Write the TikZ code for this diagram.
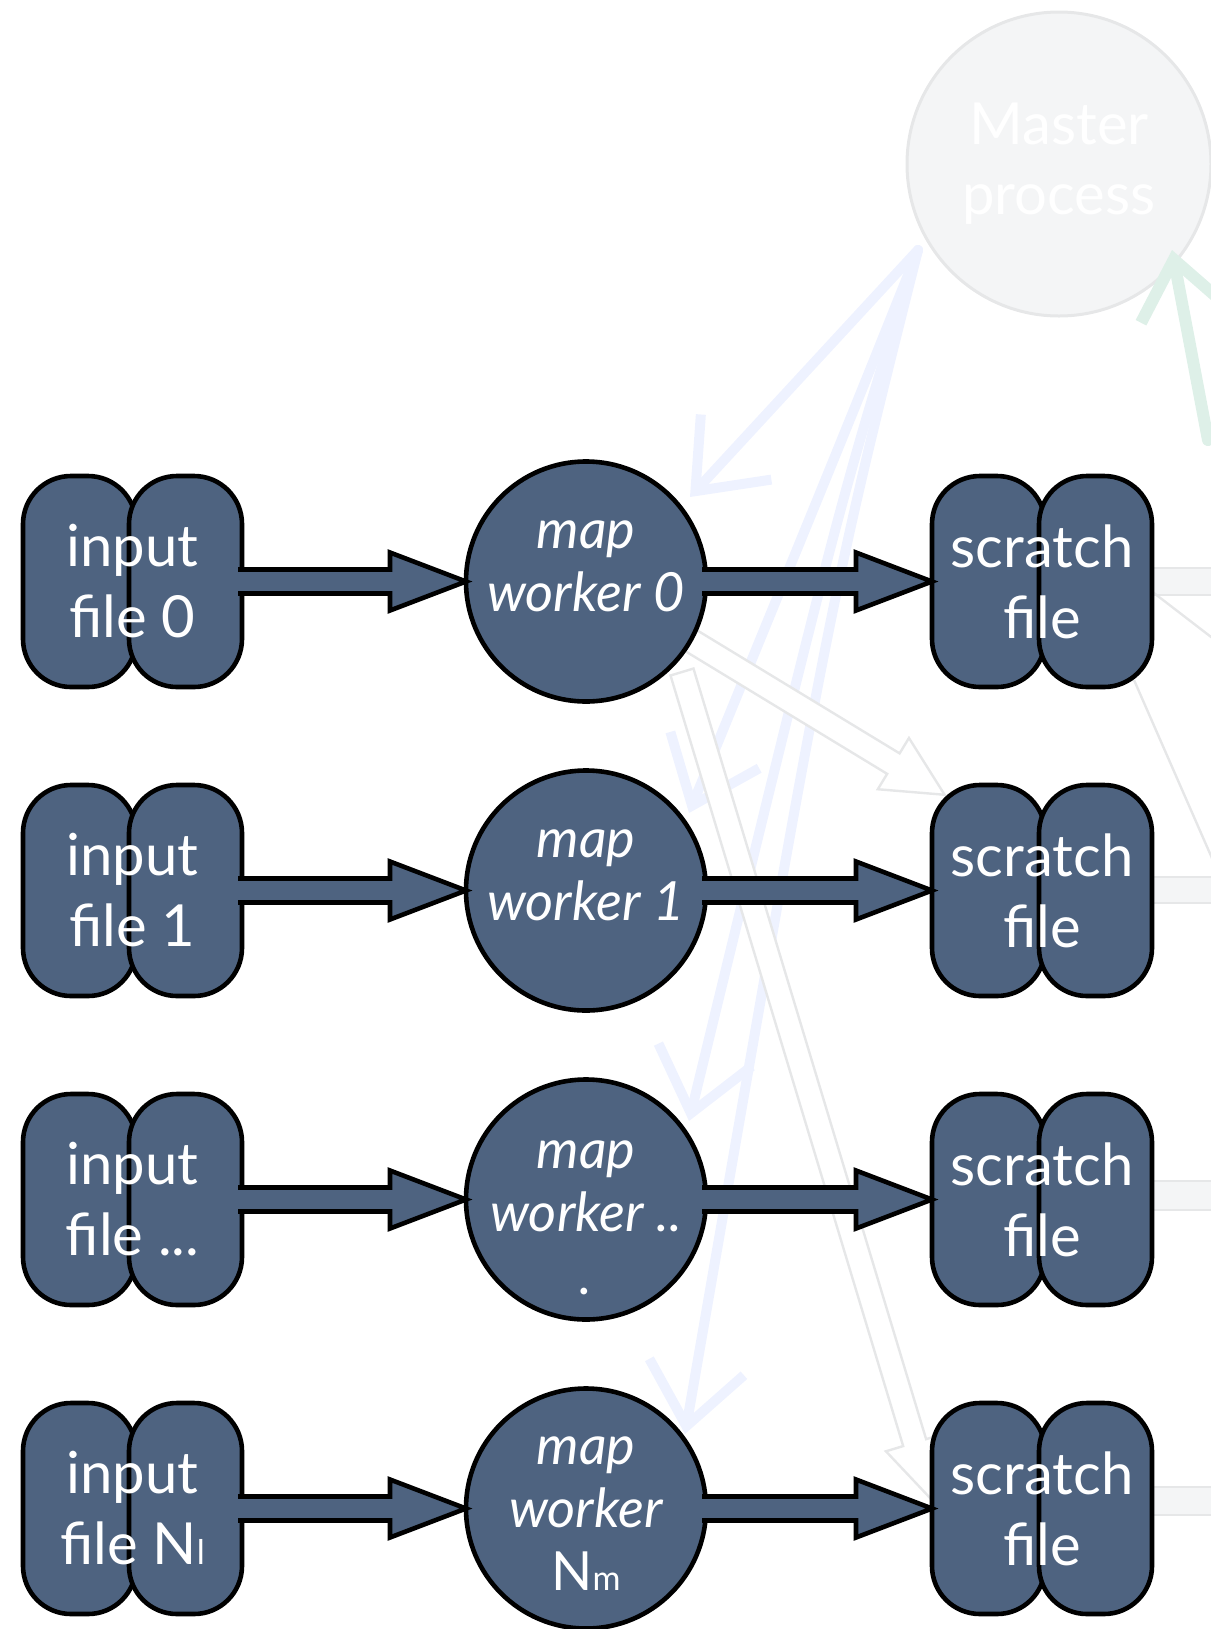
\documentclass[tikz,border=0pt]{standalone}
\usepackage{fontspec}
\setmainfont{Lato}
\usetikzlibrary{calc,arrows.meta}
\definecolor{slate}{HTML}{4E6380}
\definecolor{ghostblue}{RGB}{238,242,255}
\definecolor{ghostgreen}{RGB}{222,240,232}
\definecolor{ghostgray}{RGB}{230,231,232}
\definecolor{ghostfill}{RGB}{244,245,246}
\newcommand\blockarrow[2]{%
  \fill[slate] let \p1=(#1), \p2=(#2) in
    (\x1,\y2+6pt) -- (\x2-38pt,\y2+6pt) -- (\x2-38pt,\y2+14.5pt) -- (\x2,\y2)
    -- (\x2-38pt,\y2-14.5pt) -- (\x2-38pt,\y2-6pt) -- (\x1,\y2-6pt) -- cycle;
  \draw[flow] let \p1=(#1), \p2=(#2) in
    (\x1,\y2+6pt) -- (\x2-38pt,\y2+6pt) -- (\x2-38pt,\y2+14.5pt) -- (\x2,\y2)
    -- (\x2-38pt,\y2-14.5pt) -- (\x2-38pt,\y2-6pt) -- (\x1,\y2-6pt);}
\newcommand\ghostblock[1]{%
  \draw[ghostarrow] (0,-12) -- (#1-60,-12) -- (#1-60,-30) -- (#1,0) -- (#1-60,30) -- (#1-60,12) -- (0,12) -- cycle;}
\begin{document}
\begin{tikzpicture}[x=0.5pt,y=-0.5pt,
  pill/.style={draw=black,line width=2.3pt,fill=slate,rounded corners=24pt,
    minimum width=56.5pt,minimum height=105.5pt,inner sep=0pt,outer sep=0pt},
  filetext/.style={text=white,font=\fontsize{29}{35.5}\selectfont,align=center,inner sep=0pt},
  worker/.style={circle,draw=black,line width=2.3pt,fill=slate,minimum size=120pt,
    inner sep=0pt,outer sep=0pt},
  workertext/.style={text=white,font=\itshape\fontsize{27}{31.5}\selectfont,align=center,inner sep=0pt},
  master/.style={circle,draw=ghostgray,line width=1.5pt,fill=ghostfill,minimum size=152pt,
    inner sep=0pt,text=white,font=\fontsize{29}{35}\selectfont,align=center},
  ghostline/.style={draw=ghostblue,line width=5pt,line cap=round,
    -{Straight Barb[length=30pt,width=48pt,line width=5pt]}},
  ghostarrow/.style={draw=ghostgray,line width=1.2pt,fill=white,line join=miter},
  ghostbar/.style={draw=ghostgray,line width=0.8pt,fill=ghostfill},
  flow/.style={draw=black,line width=2.3pt,line join=miter},
]
\useasboundingbox (0,0) rectangle (1211,1629);

% ---------- faint background (ghosted) elements ----------
\node[master] (master) at (1059,164) {Master\\process};
\coordinate (mo) at (918,250);
\coordinate (ta) at (690,497);
\coordinate (tb) at (689,813);
\coordinate (tc) at (689,1121);
\coordinate (td) at (685,1434);
\draw[ghostline] (mo) -- (ta);
\draw[ghostline] (mo) .. controls (850,420) .. (tb);
\draw[ghostline] (mo) .. controls (840,500) .. (tc);
\draw[ghostline] (mo) .. controls (830,600) .. (td);
\coordinate (gs) at (1208,440);
\coordinate (gt) at (1172,250);
\draw[draw=ghostgreen,line width=6pt,line cap=round,
  -{Straight Barb[length=28pt,width=44pt,line width=6pt]}] (gs) -- (gt);

\begin{scope}[shift={(690,640)},rotate=-31.29]
  \ghostblock{298}
\end{scope}
\begin{scope}[shift={(682,672)},rotate=-73.2]
  \ghostblock{865}
\end{scope}

\draw[ghostbar] (1215,568) -- (1100,568) -- (1100,595) -- (1215,595);
\draw[ghostbar] (1215,877) -- (1100,877) -- (1100,903) -- (1215,903);
\draw[ghostbar] (1215,1181) -- (1100,1181) -- (1100,1210) -- (1215,1210);
\draw[ghostbar] (1215,1487) -- (1100,1487) -- (1100,1515) -- (1215,1515);
\draw[ghostgray,line width=1.2pt] (1150,590) -- (1215,640);
\draw[ghostgray,line width=1.2pt] (1134,680) -- (1215,865);

% ---------- row 0 ----------
\node[pill] (in0a) at (79.5,581.5) {};
\node[pill] (in0b) at (185.5,581.5) {};
\node[filetext] (in0) at (132.5,581.5) {input\\file 0};
\node[worker] (w0) at (586,581.5) {};
\node[workertext] (w0t) at (586,566) {map\\worker 0};
\node[pill] (s0a) at (988.5,581.5) {};
\node[pill] (s0b) at (1095.5,581.5) {};
\node[filetext] (s0) at (1042,581.5) {scratch\\file};
\blockarrow{[xshift=-2pt]in0b.east}{w0.west}
\blockarrow{[xshift=-2pt]w0.east}{s0a.west}

% ---------- row 1 ----------
\node[pill] (in1a) at (79.5,890.5) {};
\node[pill] (in1b) at (185.5,890.5) {};
\node[filetext] (in1) at (132.5,890.5) {input\\file 1};
\node[worker] (w1) at (586,890.5) {};
\node[workertext] (w1t) at (586,875) {map\\worker 1};
\node[pill] (s1a) at (988.5,890.5) {};
\node[pill] (s1b) at (1095.5,890.5) {};
\node[filetext] (s1) at (1042,890.5) {scratch\\file};
\blockarrow{[xshift=-2pt]in1b.east}{w1.west}
\blockarrow{[xshift=-2pt]w1.east}{s1a.west}

% ---------- row 2 ----------
\node[pill] (in2a) at (79.5,1199.5) {};
\node[pill] (in2b) at (185.5,1199.5) {};
\node[filetext] (in2) at (132.5,1199.5) {input\\file ...};
\node[worker] (w2) at (586,1199.5) {};
\node[workertext] (w2t) at (586,1218) {map\\worker ..\\.};
\node[pill] (s2a) at (988.5,1199.5) {};
\node[pill] (s2b) at (1095.5,1199.5) {};
\node[filetext] (s2) at (1042,1199.5) {scratch\\file};
\blockarrow{[xshift=-2pt]in2b.east}{w2.west}
\blockarrow{[xshift=-2pt]w2.east}{s2a.west}

% ---------- row 3 ----------
\node[pill] (in3a) at (79.5,1508.5) {};
\node[pill] (in3b) at (185.5,1508.5) {};
\node[filetext] (in3) at (132.5,1508.5) {input\\file N{\fontsize{17}{17}\selectfont l}};
\node[worker] (w3) at (586,1508.5) {};
\node[workertext] (w3t) at (586,1514) {map\\worker\\{\upshape N{\fontsize{17}{17}\selectfont m}}};
\node[pill] (s3a) at (988.5,1508.5) {};
\node[pill] (s3b) at (1095.5,1508.5) {};
\node[filetext] (s3) at (1042,1508.5) {scratch\\file};
\blockarrow{[xshift=-2pt]in3b.east}{w3.west}
\blockarrow{[xshift=-2pt]w3.east}{s3a.west}
\end{tikzpicture}
\end{document}
